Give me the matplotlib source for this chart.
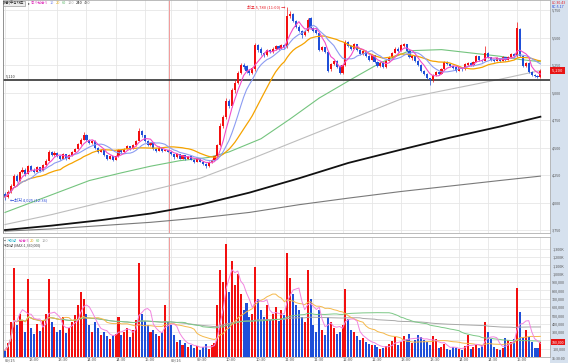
import matplotlib
matplotlib.use("Agg")
import matplotlib.pyplot as plt
import matplotlib.transforms as mtransforms
from matplotlib.patches import Rectangle
import numpy as np
import pandas as pd

plt.rcParams['font.family'] = ['Noto Sans CJK KR', 'DejaVu Sans']

# 3-minute bars over two sessions (bar time = end of bar)
day1_times = list(pd.date_range("2023-09-15 12:36", "2023-09-15 15:18", freq="3min")) + \
    [pd.Timestamp("2023-09-15 15:20"), pd.Timestamp("2023-09-15 15:30")]
day2_times = list(pd.date_range("2023-09-16 09:03", "2023-09-16 15:18", freq="3min")) + \
    [pd.Timestamp("2023-09-16 15:20"), pd.Timestamp("2023-09-16 15:30")]
times = day1_times + day2_times

opens = [
    4080, 4050, 4100, 4150, 4240, 4200, 4280, 4300, 4260, 4330,
    4300, 4280, 4320, 4290, 4340, 4380, 4460, 4430, 4450, 4420,
    4400, 4440, 4400, 4430, 4460, 4490, 4530, 4570, 4610, 4570,
    4540, 4560, 4500, 4460, 4480, 4430, 4400, 4420, 4390, 4420,
    4480, 4460, 4490, 4510, 4490, 4520, 4560, 4650, 4610, 4560,
    4520, 4540, 4490, 4470, 4500, 4470, 4480,
    4460, 4440, 4410, 4440, 4400, 4430, 4400, 4420, 4390, 4370,
    4400, 4370, 4350, 4330, 4370, 4390, 4420, 4520, 4700, 4780,
    4920, 4880, 5020, 5090, 5180, 5250, 5240, 5200, 5180, 5210,
    5430, 5400, 5360, 5340, 5390, 5370, 5400, 5420, 5400, 5430,
    5410, 5700, 5710, 5650, 5600, 5560, 5520, 5560, 5680, 5590,
    5570, 5540, 5390, 5410, 5370, 5210, 5260, 5290, 5240, 5180,
    5250, 5460, 5420, 5400, 5440, 5390, 5350, 5380, 5330, 5300,
    5340, 5280, 5240, 5270, 5230, 5290, 5320, 5360, 5400, 5380,
    5420, 5440, 5380, 5310, 5330, 5290, 5250, 5200, 5170, 5130,
    5110, 5160, 5190, 5170, 5210, 5280, 5260, 5240, 5230, 5200,
    5230, 5210, 5250, 5270, 5250, 5280, 5330, 5300, 5290, 5360,
    5320, 5300, 5290, 5310, 5290, 5320, 5300, 5320, 5350, 5330,
    5580, 5330, 5240, 5270, 5190, 5160, 5150, 5140,
]
closes = [
    4050, 4100, 4150, 4240, 4200, 4280, 4300, 4260, 4330, 4300,
    4280, 4320, 4290, 4340, 4380, 4460, 4430, 4450, 4420, 4400,
    4440, 4400, 4430, 4460, 4490, 4530, 4570, 4610, 4570, 4540,
    4560, 4500, 4460, 4480, 4430, 4400, 4420, 4390, 4420, 4480,
    4460, 4490, 4510, 4490, 4520, 4560, 4650, 4610, 4560, 4520,
    4540, 4490, 4470, 4500, 4470, 4480, 4460,
    4440, 4410, 4440, 4400, 4430, 4400, 4420, 4390, 4370, 4400,
    4370, 4350, 4330, 4370, 4390, 4420, 4520, 4700, 4780, 4920,
    4880, 5020, 5090, 5180, 5250, 5230, 5200, 5180, 5220, 5430,
    5390, 5360, 5340, 5390, 5370, 5400, 5420, 5400, 5430, 5410,
    5700, 5710, 5650, 5600, 5560, 5520, 5560, 5660, 5590, 5560,
    5540, 5390, 5410, 5370, 5200, 5260, 5290, 5230, 5180, 5250,
    5460, 5420, 5400, 5440, 5390, 5350, 5380, 5330, 5300, 5340,
    5280, 5240, 5270, 5230, 5290, 5320, 5360, 5400, 5380, 5430,
    5440, 5380, 5320, 5330, 5290, 5250, 5200, 5170, 5130, 5110,
    5160, 5190, 5170, 5210, 5280, 5260, 5240, 5220, 5200, 5230,
    5210, 5260, 5270, 5250, 5280, 5330, 5300, 5290, 5360, 5320,
    5300, 5290, 5310, 5290, 5320, 5300, 5320, 5350, 5330, 5590,
    5330, 5240, 5270, 5190, 5160, 5150, 5140, 5200,
]
highs = [
    4095, 4110, 4165, 4260, 4255, 4290, 4320, 4310, 4345, 4340,
    4310, 4330, 4325, 4350, 4395, 4475, 4470, 4465, 4455, 4430,
    4450, 4445, 4440, 4470, 4500, 4540, 4585, 4640, 4620, 4580,
    4570, 4565, 4505, 4490, 4485, 4435, 4430, 4425, 4430, 4490,
    4485, 4500, 4520, 4515, 4530, 4570, 4680, 4660, 4615, 4565,
    4550, 4545, 4495, 4510, 4505, 4490, 4480,
    4470, 4445, 4450, 4445, 4435, 4435, 4425, 4425, 4395, 4405,
    4405, 4375, 4355, 4375, 4395, 4430, 4530, 4720, 4800, 4950,
    4940, 5040, 5110, 5200, 5270, 5270, 5250, 5210, 5230, 5450,
    5440, 5410, 5370, 5400, 5400, 5410, 5430, 5430, 5440, 5440,
    5780, 5740, 5720, 5660, 5610, 5570, 5570, 5680, 5690, 5600,
    5580, 5550, 5420, 5415, 5380, 5270, 5300, 5300, 5250, 5260,
    5480, 5470, 5430, 5450, 5445, 5395, 5390, 5385, 5340, 5350,
    5345, 5290, 5280, 5275, 5300, 5330, 5370, 5410, 5410, 5440,
    5450, 5445, 5385, 5340, 5335, 5295, 5255, 5205, 5175, 5135,
    5170, 5200, 5195, 5220, 5290, 5285, 5265, 5245, 5235, 5240,
    5235, 5270, 5280, 5275, 5290, 5340, 5335, 5305, 5420, 5365,
    5325, 5305, 5320, 5315, 5330, 5325, 5330, 5360, 5355, 5640,
    5590, 5340, 5280, 5275, 5195, 5170, 5160, 5210,
]
lows = [
    4025, 4045, 4090, 4140, 4185, 4195, 4265, 4245, 4255, 4290,
    4265, 4275, 4280, 4285, 4330, 4375, 4420, 4420, 4410, 4390,
    4395, 4390, 4395, 4425, 4455, 4485, 4525, 4565, 4560, 4530,
    4535, 4490, 4450, 4455, 4420, 4390, 4395, 4380, 4385, 4415,
    4450, 4455, 4485, 4480, 4485, 4515, 4555, 4600, 4550, 4510,
    4515, 4480, 4460, 4465, 4460, 4465, 4460,
    4430, 4400, 4405, 4395, 4395, 4390, 4395, 4385, 4360, 4365,
    4365, 4340, 4310, 4325, 4360, 4385, 4415, 4510, 4680, 4760,
    4860, 4870, 5000, 5080, 5170, 5210, 5180, 5160, 5170, 5200,
    5370, 5340, 5320, 5330, 5360, 5360, 5390, 5390, 5395, 5400,
    5405, 5680, 5640, 5590, 5550, 5500, 5510, 5550, 5580, 5550,
    5530, 5380, 5380, 5360, 5190, 5200, 5250, 5220, 5170, 5170,
    5240, 5410, 5390, 5395, 5380, 5340, 5345, 5320, 5290, 5295,
    5270, 5230, 5235, 5220, 5225, 5285, 5315, 5355, 5370, 5375,
    5410, 5370, 5310, 5300, 5280, 5240, 5190, 5160, 5120, 5070,
    5100, 5150, 5160, 5165, 5205, 5250, 5230, 5210, 5190, 5195,
    5200, 5205, 5245, 5240, 5245, 5275, 5290, 5280, 5285, 5310,
    5290, 5280, 5285, 5280, 5285, 5290, 5295, 5315, 5320, 5325,
    5320, 5230, 5230, 5180, 5150, 5140, 5130, 5135,
]
# volume in thousands of shares
volumes = [
    80, 170, 420, 1070, 380, 520, 450, 300, 940, 350,
    280, 400, 310, 450, 520, 940, 420, 360, 300, 330,
    480, 290, 350, 420, 500, 620, 780, 700, 520, 380,
    300, 420, 350, 260, 300, 250, 220, 260, 280, 480,
    270, 300, 350, 240, 320, 450, 1130, 520, 430, 380,
    300, 330, 280, 250, 300, 620, 420,
    380, 260, 180, 200, 150, 170, 120, 140, 110, 130,
    90, 120, 160, 100, 140, 170, 620, 1050, 900, 1360,
    780, 1150, 870, 1000, 760, 560, 650, 480, 520, 1080,
    700, 560, 480, 620, 450, 520, 600, 430, 560, 500,
    1250, 950, 760, 620, 560, 480, 420, 1050, 700, 380,
    300, 560, 320, 260, 480, 420, 350, 280, 300, 380,
    820, 460, 320, 300, 250, 200, 230, 180, 160, 140,
    150, 120, 100, 110, 130, 160, 190, 240, 150, 180,
    250, 220, 280, 170, 200, 260, 240, 210, 180, 150,
    250, 220, 110, 120, 160, 100, 90, 120, 110, 100,
    90, 130, 270, 100, 120, 140, 110, 150, 420, 300,
    220, 120, 100, 90, 110, 230, 200, 180, 220, 830,
    540, 240, 330, 240, 180, 110, 110, 180,
]

# long moving averages (bar index, price)
ma60_idx = [0, 9, 19, 29, 40, 50, 60, 70, 77, 88, 98, 108, 119, 129, 139, 150, 160, 170, 177, 184]
ma60_val = [3910, 4000, 4100, 4200, 4270, 4330, 4380, 4410, 4460, 4580, 4760, 4950, 5120, 5270, 5380,
            5390, 5360, 5330, 5300, 5280]
long_idx = [0, 16, 33, 50, 67, 84, 101, 118, 136, 153, 170, 184]
ma120_val = [3800, 3890, 4000, 4110, 4220, 4390, 4570, 4750, 4940, 5030, 5120, 5200]
ma240_val = [3750, 3790, 3840, 3900, 3980, 4090, 4220, 4360, 4480, 4590, 4690, 4780]
ma480_val = [3740, 3760, 3790, 3820, 3860, 3910, 3980, 4040, 4100, 4150, 4200, 4240]

ref_price = 5110
price_ticks = [3750, 4000, 4250, 4500, 4750, 5000, 5250, 5500, 5750]
vol_ticks = [100, 200, 300, 400, 500, 600, 700, 800, 900, 1000, 1100, 1200, 1300]

RED = '#f20f0f'
BLUE = '#1f4fd8'
GRID = '#e6e6e6'

o = np.array(opens); c = np.array(closes); h = np.array(highs); l = np.array(lows)
v = np.array(volumes)
x = np.arange(len(times))
cols = np.where(c >= o, RED, BLUE)

W, H = 568, 363
fig = plt.figure(figsize=(W / 100, H / 100), dpi=100, facecolor='white')
fig.add_artist(Rectangle((550 / W, 0), 18 / W, 1, transform=fig.transFigure,
                         fc='#d6e1ee', ec='none', zorder=-1))

ax_p = fig.add_axes([3 / W, 1 - 233 / H, 547 / W, 233 / H])
ax_v = fig.add_axes([3 / W, 6 / H, 547 / W, 120 / H])

# grid ticks every 30 minutes
tick_pos, tick_lab = [], []
for i, t in enumerate(times):
    first = i == 0 or times[i - 1].date() != t.date()
    if first:
        tick_pos.append(i); tick_lab.append(t.strftime('%m/%d'))
    elif t.minute % 30 == 0:
        tick_pos.append(i)
        tick_lab.append('' if (t.hour == 15 and t.minute == 30) else t.strftime('%H:%M'))
day_break = len(day1_times) - 0.5

for ax in (ax_p, ax_v):
    ax.set_xlim(-0.69, 187.3)
    ax.set_xticks(tick_pos)
    ax.grid(True, color=GRID, lw=0.6)
    ax.set_axisbelow(True)
    ax.axvline(day_break, color='#f29a9a', lw=0.7, zorder=1)
    ax.yaxis.tick_right()
    ax.tick_params(axis='y', length=0, pad=1.6, labelsize=2.7, labelcolor='#555555')
    for s in ax.spines.values():
        s.set_color('#b0b0b0'); s.set_linewidth(0.6)
    ax.spines['left'].set_color('#808080')

# price panel
ax_p.set_ylim(3723, 5841)
ax_p.set_yticks(price_ticks)
ax_p.set_yticklabels([f"{p:,}" for p in price_ticks])
ax_p.tick_params(axis='x', length=0, labelbottom=False)

ax_p.plot(long_idx, ma480_val, color='#7a7a7a', lw=0.8, zorder=2)
ax_p.plot(long_idx, ma240_val, color='#111111', lw=1.3, zorder=2)
ax_p.plot(long_idx, ma120_val, color='#bdbdbd', lw=0.8, zorder=2)
ax_p.plot(ma60_idx, ma60_val, color='#74c47e', lw=0.8, zorder=2)
ax_p.axhline(ref_price, color='#333333', lw=1.2, zorder=2)
ax_p.text(0.3, ref_price + 15, f"{ref_price:,}", fontsize=2.8, color='#333333', va='bottom')

ax_p.vlines(x, l, h, colors=cols, lw=0.5, zorder=3)
ax_p.bar(x, np.maximum(np.abs(c - o), 5), bottom=np.minimum(o, c), width=0.72,
         color=cols, lw=0, zorder=3)

cs = pd.Series(closes)
ax_p.plot(x, cs.rolling(20, min_periods=1).mean(), color='#f5a300', lw=0.9, zorder=4)
ax_p.plot(x, cs.rolling(10, min_periods=1).mean(), color='#8c9cf2', lw=0.8, zorder=4)
ax_p.plot(x, cs.rolling(5, min_periods=1).mean(), color='#f24cc8', lw=0.8, zorder=4)

imax = int(np.argmax(h)); imin = int(np.argmin(l))
ax_p.text(imax - 0.6, h[imax], f"최고 {h[imax]:,} (11:00) →", color='#e8202a', fontsize=3,
          ha='right', va='center', zorder=6)
ax_p.text(imin + 1.6, l[imin], f"←최저 {l[imin]:,} (12:36)", color='#2546d6', fontsize=3,
          ha='left', va='center', zorder=6)

blend_p = mtransforms.blended_transform_factory(ax_p.transAxes, ax_p.transData)
ax_p.text(1.003, c[-1], f"{c[-1]:,}  ", transform=blend_p, fontsize=2.9, color='white',
          ha='left', va='center', clip_on=False, zorder=10,
          bbox=dict(fc='#e81414', ec='none', boxstyle='square,pad=0.3'))

# volume panel
ax_v.set_ylim(0, 1440)
ax_v.set_yticks(vol_ticks)
ax_v.set_yticklabels([f"{t // 1000},{t % 1000:03d}K" if t >= 1000 else f"{t * 1000:,}" for t in vol_ticks])
ax_v.set_xticklabels(tick_lab)
ax_v.tick_params(axis='x', length=0, pad=0.8, labelsize=3, labelcolor='#555555')
for lab in ax_v.get_xticklabels():
    lab.set_ha('left')

ax_v.bar(x, v, width=0.7, color=cols, lw=0, zorder=2)
vs = pd.Series(volumes)
ax_v.plot(x, vs.rolling(120, min_periods=1).mean(), color='#a8a8a8', lw=0.7, zorder=3)
ax_v.plot(x, vs.rolling(60, min_periods=1).mean(), color='#7cc886', lw=0.7, zorder=3)
ax_v.plot(x, vs.rolling(20, min_periods=1).mean(), color='#f5b84a', lw=0.7, zorder=3)
ax_v.plot(x, vs.rolling(5, min_periods=1).mean(), color='#f285e0', lw=0.7, zorder=3)

blend_v = mtransforms.blended_transform_factory(ax_v.transAxes, ax_v.transData)
ax_v.text(1.003, v[-1], f"{v[-1] * 1000:,}", transform=blend_v, fontsize=2.6, color='white',
          ha='left', va='center', clip_on=False, zorder=10,
          bbox=dict(fc='#e81414', ec='none', boxstyle='square,pad=0.3'))


def put(xp, yp, s, color, size=2.8, **kw):
    fig.text(xp / W, 1 - yp / H, s, color=color, fontsize=size, va='center', ha='left', **kw)


# price legend
put(3, 3.5, "[3분]주식차트", '#222222', size=2.6,
    bbox=dict(fc='#eeeeee', ec='#888888', lw=0.4, boxstyle='square,pad=0.1'))
put(27.5, 3.5, "▸", '#444444', size=2.6)
put(31, 3.5, "종가단순 5", '#e23cc0', size=2.6)
put(50, 3.5, "10", '#7d8df0')
put(56, 3.5, "20", '#e8b020')
put(62, 3.5, "60", '#52b462')
put(68, 3.5, "120", '#a8a8a8')
put(76, 3.5, "240", '#111111')
put(84, 3.5, "480", '#7a7a7a')

# volume legend
put(3, 241, "▪", '#444444')
put(7, 241, "거래량", '#1fb0c8', size=2.6)
put(19, 241, "단순 5", '#e23cc0', size=2.6)
put(30, 241, "20", '#e8b020')
put(36, 241, "60", '#52b462')
put(42, 241, "120", '#a8a8a8')
put(3, 245.5, "거래량 (MAX:1,360,000)", '#444444', size=2.6)

# right strip extras
put(551.5, 2.5, "LC:30.43", '#e8202a', size=2.6)
put(551.5, 6.5, "RC:5.17", '#2546d6', size=2.6)
put(551.5, 359.5, "15:30:00", '#555555', size=2.6)

fig.savefig("out.png", dpi=100, facecolor='white')
